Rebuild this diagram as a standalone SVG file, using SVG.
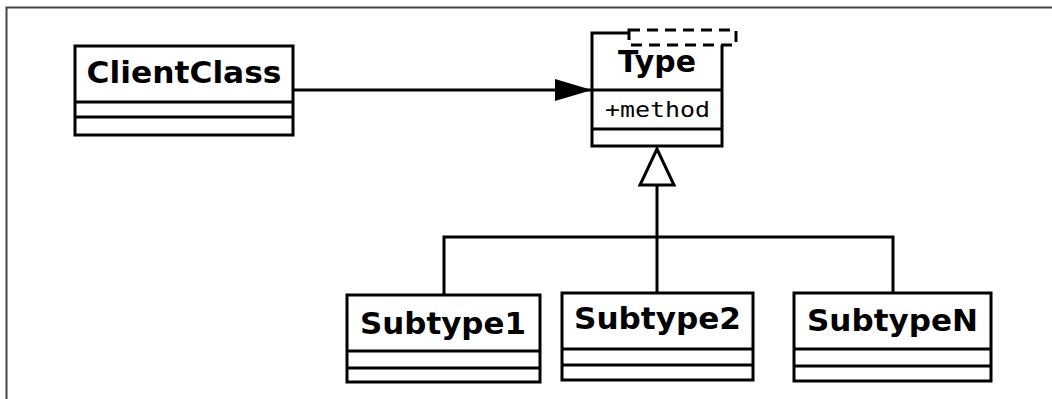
<svg xmlns="http://www.w3.org/2000/svg" width="1052" height="399" viewBox="0 0 1052 399">
<defs>
<style>
.box{fill:#fff;stroke:#000;stroke-width:3}
.ln{fill:none;stroke:#000;stroke-width:3}
.name{font-family:"DejaVu Sans",sans-serif;font-weight:bold;font-size:31px;fill:#000;text-anchor:middle}
.attr{font-family:"DejaVu Sans Mono",monospace;font-size:22px;fill:#000}
</style>
<marker id="filled" markerWidth="38" markerHeight="22" refX="37" refY="11" orient="auto" markerUnits="userSpaceOnUse">
<path d="M0,0 L37,11 L0,22 Z" fill="#000"/>
</marker>
</defs>
<rect width="1052" height="399" fill="#fff"/>
<path d="M6.5,399 V7.5 H1052" fill="none" stroke="#444" stroke-width="2"/>

<g id="connectors">
<line class="ln" x1="293" y1="90" x2="592" y2="90" marker-end="url(#filled)"/>
<polygon points="657,149 640,185 674,185" fill="#fff" stroke="#000" stroke-width="3"/>
<path class="ln" d="M657,185 V293"/>
<path class="ln" d="M444,295 V237 H893 V293"/>
</g>

<g id="ClientClass">
<rect class="box" x="75" y="46" width="218" height="89"/>
<line class="ln" x1="75" y1="102" x2="293" y2="102"/>
<line class="ln" x1="75" y1="117" x2="293" y2="117"/>
<text class="name" x="184" y="83" textLength="195" lengthAdjust="spacingAndGlyphs">ClientClass</text>
</g>

<g id="Type">
<rect class="box" x="592" y="33" width="130" height="113"/>
<line class="ln" x1="592" y1="90" x2="722" y2="90"/>
<line class="ln" x1="592" y1="129" x2="722" y2="129"/>
<rect x="629" y="30" width="107" height="15" fill="#fff" stroke="#000" stroke-width="3" stroke-dasharray="11,7"/>
<text class="name" x="657" y="72" textLength="78" lengthAdjust="spacingAndGlyphs">Type</text>
<text class="attr" x="605" y="117" textLength="105" lengthAdjust="spacingAndGlyphs">+method</text>
</g>

<g id="Subtype1">
<rect class="box" x="347" y="295" width="193" height="87"/>
<line class="ln" x1="347" y1="351" x2="540" y2="351"/>
<line class="ln" x1="347" y1="368" x2="540" y2="368"/>
<text class="name" x="443" y="334" textLength="166" lengthAdjust="spacingAndGlyphs">Subtype1</text>
</g>

<g id="Subtype2">
<rect class="box" x="562" y="293" width="191" height="87"/>
<line class="ln" x1="562" y1="349" x2="753" y2="349"/>
<line class="ln" x1="562" y1="365" x2="753" y2="365"/>
<text class="name" x="657.5" y="329" textLength="167" lengthAdjust="spacingAndGlyphs">Subtype2</text>
</g>

<g id="SubtypeN">
<rect class="box" x="794" y="293" width="197" height="88"/>
<line class="ln" x1="794" y1="349" x2="991" y2="349"/>
<line class="ln" x1="794" y1="366" x2="991" y2="366"/>
<text class="name" x="892.5" y="331" textLength="171" lengthAdjust="spacingAndGlyphs">SubtypeN</text>
</g>
</svg>
